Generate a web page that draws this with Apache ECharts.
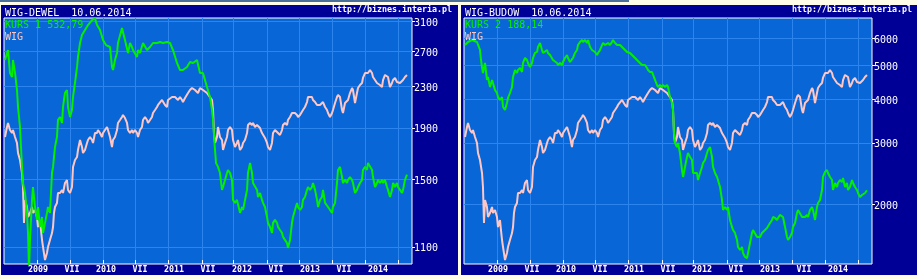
<!DOCTYPE html>
<html><head><meta charset="utf-8">
<script src="https://cdn.jsdelivr.net/npm/echarts@6/dist/echarts.min.js"></script>
<style>html,body{margin:0;padding:0;background:#fffde8;}#c{width:917px;height:279px;}</style>
</head><body><div id="c"></div><script>
// x axis: time in decimal years
const xLabelYears = [2009, 2009.5, 2010, 2010.5, 2011, 2011.5, 2012, 2012.5, 2013, 2013.5, 2014];
const xTickYears = [2008.985, 2009.471, 2009.956, 2010.426, 2010.912, 2011.412, 2011.868, 2012.368, 2012.838, 2013.324, 2013.809, 2014.294];
const dewelTicks = [1100, 1500, 1900, 2300, 2700, 3100];
const budowTicks = [2000, 3000, 4000, 5000, 6000];
const dewelName = 'KURS 1 532,79';
const budowName = 'KURS 2 188,14';

// WIG-DEWEL quotes [year, value]
const dewel = [[2008.515,2594],[2008.559,2715],[2008.588,2444],[2008.618,2399],[2008.632,2594],[2008.662,2444],[2008.691,2260],[2008.706,2091],[2008.735,1908],[2008.750,1740],[2008.765,1588],[2008.779,1475],[2008.809,1409],[2008.838,1286],[2008.853,1173],[2008.868,990],[2008.882,1136],[2008.912,1365],[2008.926,1448],[2008.956,1321],[2008.985,1245],[2009.000,1321],[2009.029,1206],[2009.059,1262],[2009.074,1173],[2009.103,1228],[2009.132,1286],[2009.147,1321],[2009.176,1286],[2009.206,1544],[2009.221,1588],[2009.250,1740],[2009.279,1822],[2009.294,1970],[2009.324,1997],[2009.353,1943],[2009.368,2091],[2009.397,2230],[2009.426,2260],[2009.441,2091],[2009.471,1997],[2009.500,2062],[2009.515,2189],[2009.544,2334],[2009.574,2512],[2009.588,2630],[2009.618,2804],[2009.647,2909],[2009.691,2976],[2009.735,3045],[2009.794,3116],[2009.838,3140],[2009.868,3045],[2009.912,2976],[2009.956,2843],[2010.000,2778],[2010.059,2753],[2010.088,2512],[2010.103,2477],[2010.132,2594],[2010.162,2679],[2010.176,2804],[2010.235,3004],[2010.279,2843],[2010.324,2679],[2010.353,2804],[2010.382,2753],[2010.397,2715],[2010.456,2630],[2010.471,2715],[2010.500,2679],[2010.544,2804],[2010.603,2715],[2010.647,2753],[2010.691,2804],[2010.750,2804],[2010.794,2817],[2010.838,2804],[2010.897,2817],[2010.941,2804],[2010.985,2715],[2011.044,2558],[2011.088,2477],[2011.132,2477],[2011.191,2512],[2011.235,2570],[2011.279,2558],[2011.338,2594],[2011.382,2444],[2011.426,2444],[2011.485,2292],[2011.529,2189],[2011.559,2062],[2011.574,1970],[2011.603,1716],[2011.618,1617],[2011.647,1588],[2011.676,1544],[2011.706,1429],[2011.721,1448],[2011.750,1496],[2011.779,1544],[2011.794,1566],[2011.824,1544],[2011.853,1496],[2011.868,1365],[2011.897,1346],[2011.926,1365],[2011.971,1286],[2012.000,1321],[2012.015,1303],[2012.074,1429],[2012.088,1544],[2012.118,1617],[2012.147,1544],[2012.162,1475],[2012.221,1429],[2012.235,1383],[2012.265,1409],[2012.294,1365],[2012.309,1346],[2012.338,1321],[2012.368,1262],[2012.382,1228],[2012.412,1206],[2012.441,1173],[2012.456,1228],[2012.485,1245],[2012.515,1228],[2012.529,1206],[2012.559,1189],[2012.588,1173],[2012.603,1152],[2012.632,1136],[2012.662,1120],[2012.676,1095],[2012.706,1136],[2012.735,1228],[2012.750,1262],[2012.779,1303],[2012.809,1346],[2012.824,1321],[2012.853,1303],[2012.882,1321],[2012.897,1365],[2012.926,1383],[2012.956,1429],[2012.971,1448],[2013.000,1429],[2013.029,1448],[2013.044,1475],[2013.074,1429],[2013.103,1365],[2013.118,1321],[2013.147,1365],[2013.176,1383],[2013.191,1429],[2013.221,1346],[2013.250,1346],[2013.265,1321],[2013.294,1303],[2013.324,1286],[2013.338,1321],[2013.368,1346],[2013.397,1475],[2013.412,1566],[2013.441,1588],[2013.471,1516],[2013.485,1475],[2013.515,1496],[2013.544,1475],[2013.559,1496],[2013.588,1516],[2013.618,1496],[2013.632,1475],[2013.662,1409],[2013.691,1429],[2013.706,1448],[2013.735,1475],[2013.765,1496],[2013.779,1566],[2013.809,1588],[2013.838,1566],[2013.853,1617],[2013.882,1617],[2013.912,1566],[2013.926,1516],[2013.956,1448],[2013.985,1475],[2014.000,1496],[2014.029,1475],[2014.059,1496],[2014.074,1475],[2014.103,1496],[2014.132,1448],[2014.147,1429],[2014.176,1383],[2014.206,1429],[2014.221,1475],[2014.250,1448],[2014.279,1475],[2014.294,1448],[2014.324,1429],[2014.353,1409],[2014.368,1429],[2014.397,1496],[2014.426,1532.79]];

// WIG-BUDOW quotes [year, value]
const budow = [[2008.515,5732],[2008.559,5847],[2008.618,5925],[2008.691,5847],[2008.735,5546],[2008.750,5190],[2008.765,4955],[2008.779,4762],[2008.809,5088],[2008.838,4547],[2008.853,4638],[2008.882,4340],[2008.912,4547],[2008.926,4457],[2008.956,4255],[2008.985,4171],[2009.000,4062],[2009.029,3982],[2009.059,4062],[2009.074,3802],[2009.103,3727],[2009.132,3904],[2009.147,4036],[2009.176,4171],[2009.206,4340],[2009.221,4638],[2009.250,4858],[2009.279,4762],[2009.294,4858],[2009.324,4923],[2009.353,4794],[2009.368,5088],[2009.397,5260],[2009.426,5190],[2009.441,5088],[2009.471,4955],[2009.500,5088],[2009.515,5260],[2009.544,5437],[2009.574,5473],[2009.588,5657],[2009.618,5809],[2009.647,5546],[2009.662,5437],[2009.691,5473],[2009.721,5546],[2009.735,5437],[2009.765,5365],[2009.794,5295],[2009.809,5190],[2009.838,5122],[2009.868,5088],[2009.882,5021],[2009.912,5088],[2009.941,5021],[2009.956,5122],[2009.985,5260],[2010.015,5365],[2010.029,5260],[2010.059,5122],[2010.088,5190],[2010.103,5260],[2010.132,5437],[2010.162,5546],[2010.176,5732],[2010.206,5847],[2010.235,5925],[2010.250,5847],[2010.279,5925],[2010.309,5809],[2010.324,5925],[2010.353,5657],[2010.382,5546],[2010.397,5619],[2010.426,5473],[2010.456,5365],[2010.471,5437],[2010.500,5546],[2010.529,5619],[2010.544,5809],[2010.574,5732],[2010.603,5657],[2010.618,5809],[2010.647,5732],[2010.676,5847],[2010.691,5925],[2010.721,5809],[2010.750,5732],[2010.765,5657],[2010.794,5732],[2010.824,5657],[2010.838,5619],[2010.868,5546],[2010.897,5473],[2010.912,5437],[2010.941,5437],[2010.971,5365],[2010.985,5365],[2011.015,5260],[2011.044,5190],[2011.059,5122],[2011.088,5088],[2011.118,5021],[2011.132,4955],[2011.162,5021],[2011.191,4923],[2011.206,4858],[2011.235,4794],[2011.265,4794],[2011.279,4762],[2011.309,4547],[2011.338,4398],[2011.353,4340],[2011.382,4398],[2011.412,4340],[2011.426,4398],[2011.456,4340],[2011.485,4398],[2011.500,4340],[2011.529,4062],[2011.559,3904],[2011.574,3727],[2011.588,3200],[2011.603,2996],[2011.632,2917],[2011.647,2996],[2011.676,2803],[2011.706,2505],[2011.721,2392],[2011.750,2555],[2011.779,2730],[2011.794,2803],[2011.824,2730],[2011.853,2677],[2011.868,2456],[2011.897,2424],[2011.926,2456],[2011.941,2344],[2011.971,2456],[2012.000,2555],[2012.015,2624],[2012.044,2677],[2012.074,2803],[2012.088,2860],[2012.118,2917],[2012.147,2730],[2012.162,2555],[2012.191,2456],[2012.221,2392],[2012.235,2344],[2012.265,2238],[2012.294,2054],[2012.309,1922],[2012.338,1961],[2012.368,1922],[2012.382,1961],[2012.412,1799],[2012.441,1718],[2012.456,1683],[2012.485,1651],[2012.515,1576],[2012.529,1504],[2012.559,1475],[2012.588,1504],[2012.603,1446],[2012.632,1408],[2012.662,1398],[2012.676,1408],[2012.706,1545],[2012.735,1651],[2012.750,1683],[2012.779,1661],[2012.809,1607],[2012.824,1597],[2012.853,1607],[2012.882,1651],[2012.897,1661],[2012.926,1683],[2012.956,1706],[2012.971,1718],[2013.000,1763],[2013.029,1799],[2013.044,1835],[2013.074,1823],[2013.103,1799],[2013.118,1823],[2013.147,1860],[2013.176,1884],[2013.191,1835],[2013.221,1718],[2013.250,1607],[2013.265,1576],[2013.294,1607],[2013.324,1651],[2013.338,1718],[2013.368,1763],[2013.397,1884],[2013.412,1922],[2013.441,1897],[2013.471,1835],[2013.485,1823],[2013.515,1835],[2013.544,1860],[2013.559,1835],[2013.588,1922],[2013.618,1961],[2013.632,1922],[2013.662,1799],[2013.691,1961],[2013.706,2013],[2013.735,2054],[2013.765,2194],[2013.779,2392],[2013.809,2472],[2013.838,2505],[2013.853,2456],[2013.882,2392],[2013.912,2344],[2013.926,2194],[2013.956,2298],[2013.985,2238],[2014.000,2298],[2014.029,2344],[2014.059,2314],[2014.074,2376],[2014.103,2238],[2014.132,2298],[2014.147,2194],[2014.176,2238],[2014.206,2344],[2014.221,2298],[2014.250,2238],[2014.279,2194],[2014.294,2151],[2014.324,2095],[2014.353,2123],[2014.368,2151],[2014.397,2151],[2014.426,2188.14]];

// WIG index [year, value]
const wig = [[2008.515,41950],[2008.544,43480],[2008.559,44110],[2008.588,43010],[2008.618,42550],[2008.632,43010],[2008.662,41950],[2008.691,41060],[2008.706,39610],[2008.735,38630],[2008.765,36870],[2008.779,35070],[2008.794,30820],[2008.809,33470],[2008.838,32640],[2008.853,31490],[2008.882,31950],[2008.912,32640],[2008.926,31950],[2008.956,32290],[2008.985,31490],[2009.000,30380],[2009.029,31150],[2009.059,29000],[2009.074,28280],[2009.103,26990],[2009.132,27680],[2009.147,28280],[2009.176,29000],[2009.206,29730],[2009.221,30380],[2009.235,31950],[2009.250,32640],[2009.279,33110],[2009.294,34320],[2009.324,34320],[2009.353,34690],[2009.368,34320],[2009.397,35570],[2009.426,35960],[2009.441,34690],[2009.471,34320],[2009.500,35070],[2009.515,37670],[2009.544,38630],[2009.574,39050],[2009.588,40040],[2009.618,41500],[2009.647,40470],[2009.662,39610],[2009.691,40040],[2009.721,41060],[2009.735,41500],[2009.765,41950],[2009.794,41500],[2009.809,41060],[2009.838,42550],[2009.868,42550],[2009.882,43010],[2009.912,42550],[2009.941,41950],[2009.956,42550],[2009.985,43010],[2010.015,43480],[2010.029,43010],[2010.059,41950],[2010.088,40470],[2010.103,41500],[2010.132,41950],[2010.162,43010],[2010.176,44110],[2010.206,44580],[2010.235,45060],[2010.250,45390],[2010.279,44900],[2010.309,44110],[2010.324,43010],[2010.353,42550],[2010.382,43010],[2010.397,42550],[2010.426,43010],[2010.456,42550],[2010.471,41950],[2010.500,43010],[2010.529,43480],[2010.544,44580],[2010.574,45060],[2010.603,44580],[2010.618,44110],[2010.647,44110],[2010.676,45060],[2010.691,45710],[2010.721,46210],[2010.750,46710],[2010.765,47050],[2010.794,47380],[2010.824,47900],[2010.838,48240],[2010.868,47050],[2010.897,46710],[2010.912,47900],[2010.941,48240],[2010.971,48410],[2010.985,48240],[2011.015,48410],[2011.044,48240],[2011.059,47900],[2011.088,48410],[2011.118,47900],[2011.132,47550],[2011.162,48240],[2011.191,48410],[2011.206,49110],[2011.235,49640],[2011.265,50000],[2011.279,50000],[2011.309,49640],[2011.338,49290],[2011.353,49110],[2011.382,50000],[2011.426,49640],[2011.485,49110],[2011.529,48410],[2011.559,47900],[2011.574,46210],[2011.588,42550],[2011.603,41060],[2011.632,41950],[2011.647,43480],[2011.676,41950],[2011.706,41500],[2011.721,40040],[2011.750,41060],[2011.779,41950],[2011.794,43010],[2011.824,43480],[2011.853,43010],[2011.868,41500],[2011.897,40470],[2011.926,41060],[2011.941,41500],[2011.971,40040],[2012.000,40470],[2012.015,41060],[2012.044,41500],[2012.074,42550],[2012.088,43790],[2012.118,44110],[2012.147,43790],[2012.162,44110],[2012.191,43480],[2012.221,43790],[2012.235,43480],[2012.265,43320],[2012.294,42550],[2012.309,42550],[2012.338,41800],[2012.368,41060],[2012.382,40470],[2012.412,40040],[2012.441,41060],[2012.456,42550],[2012.485,43010],[2012.515,42710],[2012.529,42550],[2012.559,42250],[2012.588,43010],[2012.603,43790],[2012.632,44110],[2012.662,43790],[2012.676,44580],[2012.706,45060],[2012.735,45710],[2012.750,45390],[2012.779,45710],[2012.809,45390],[2012.824,45060],[2012.853,45390],[2012.882,45710],[2012.897,46210],[2012.926,46710],[2012.956,47550],[2012.971,48410],[2013.000,48240],[2013.029,48410],[2013.044,47900],[2013.074,47550],[2013.103,47050],[2013.118,47380],[2013.147,47050],[2013.176,47380],[2013.191,47550],[2013.221,46710],[2013.250,46210],[2013.265,45710],[2013.294,45060],[2013.324,45710],[2013.338,46210],[2013.368,47380],[2013.397,48410],[2013.412,48760],[2013.441,48410],[2013.471,46210],[2013.485,45710],[2013.515,47380],[2013.544,47550],[2013.559,47900],[2013.588,49110],[2013.618,50000],[2013.632,49640],[2013.662,47380],[2013.691,49110],[2013.706,50000],[2013.735,50540],[2013.765,50900],[2013.779,51830],[2013.809,52760],[2013.838,52950],[2013.853,52760],[2013.882,53330],[2013.912,52760],[2013.926,52010],[2013.956,51450],[2013.985,50900],[2014.000,51090],[2014.029,50540],[2014.059,50180],[2014.074,51450],[2014.103,52390],[2014.132,52760],[2014.147,52010],[2014.176,50180],[2014.206,50900],[2014.221,51450],[2014.250,51830],[2014.279,51090],[2014.294,51450],[2014.324,50900],[2014.353,51090],[2014.368,51450],[2014.397,52010],[2014.426,52390]];

const NAVY = '#000096', PLOT = '#0866d6', GRIDC = '#2c84ee', GREEN = '#00f000', PINK = '#ffc6c6';
const MONO = 'DejaVu Sans Mono';

const panels = [
  {left: 4, title: 'WIG-DEWEL  10.06.2014', name: dewelName, data: dewel, ticks: dewelTicks, min: 1017, max: 3145},
  {left: 464, title: 'WIG-BUDOW  10.06.2014', name: budowName, data: budow, ticks: budowTicks, min: 1344, max: 6854}
];

const option = {
  backgroundColor: '#fffde8',
  animation: false,
  graphic: [
    {type: 'rect', z: -100, shape: {x: 0, y: 0, width: 629, height: 2}, style: {fill: '#4a7099'}},
    {type: 'rect', z: -100, shape: {x: 1, y: 5, width: 457, height: 270}, style: {fill: NAVY}},
    {type: 'rect', z: -100, shape: {x: 461, y: 5, width: 456, height: 270}, style: {fill: NAVY}}
  ],
  title: [],
  legend: [],
  grid: [],
  xAxis: [],
  yAxis: [],
  series: []
};

panels.forEach((p, i) => {
  option.title.push({text: p.title, left: p.left + 1, top: 7, padding: 0,
    textStyle: {color: '#fff', fontFamily: MONO, fontSize: 10, fontWeight: 'normal', lineHeight: 12}});
  option.title.push({text: 'http://biznes.interia.pl', left: p.left + 328, top: 5, padding: 0,
    textStyle: {color: '#fff', fontFamily: MONO, fontSize: 8.3, fontWeight: 'bold', lineHeight: 10}});
  option.legend.push({orient: 'vertical', left: p.left - 4, top: 20, padding: 0, itemGap: 0,
    itemWidth: 0, itemHeight: 0, selectedMode: false, icon: 'rect',
    textStyle: {fontFamily: MONO, fontSize: 10, lineHeight: 11.5},
    data: [{name: p.name, textStyle: {color: GREEN}}, {name: 'WIG', textStyle: {color: PINK}}]});
  option.grid.push({left: p.left, top: 18, width: 408, height: 246, show: true,
    backgroundColor: PLOT, borderColor: '#ffffff', borderWidth: 1});
  option.xAxis.push({type: 'value', gridIndex: i, min: 2008.5, max: 2014.5,
    axisLine: {show: false},
    axisTick: {show: true, inside: true, length: 4, customValues: xTickYears, lineStyle: {color: '#fff'}},
    splitLine: {show: true, lineStyle: {color: GRIDC, width: 1}},
    axisLabel: {customValues: xLabelYears, color: '#fff', fontFamily: MONO, fontSize: 8.3, fontWeight: 'bold',
      margin: 1, lineHeight: 10,
      formatter: v => (Math.abs(v - Math.round(v)) < 1e-6 ? String(Math.round(v)) : 'VII')}});
  option.yAxis.push({type: 'log', gridIndex: i, position: 'right', min: p.min, max: p.max, logBase: 10,
    axisLine: {show: false},
    axisTick: {show: true, length: 3, customValues: p.ticks, lineStyle: {color: '#fff'}},
    splitLine: {show: true, lineStyle: {color: GRIDC, width: 1}},
    axisLabel: {customValues: p.ticks, color: '#fff', fontFamily: MONO, fontSize: 10, margin: 2,
      verticalAlign: 'top', lineHeight: 4, formatter: v => String(Math.round(v))}});
  option.yAxis.push({type: 'log', gridIndex: i, min: 26610, max: 64260, show: false, splitLine: {show: false}});
  option.series.push({name: 'WIG', type: 'line', xAxisIndex: i, yAxisIndex: 2 * i + 1, data: wig,
    symbol: 'none', clip: true, lineStyle: {color: PINK, width: 2}, itemStyle: {color: PINK}, z: 2});
  option.series.push({name: p.name, type: 'line', xAxisIndex: i, yAxisIndex: 2 * i, data: p.data,
    symbol: 'none', clip: true, lineStyle: {color: GREEN, width: 2}, itemStyle: {color: GREEN}, z: 3});
});

const chart = echarts.init(document.getElementById('c'), null, {renderer: 'canvas'});
chart.setOption(option);
</script></body></html>
